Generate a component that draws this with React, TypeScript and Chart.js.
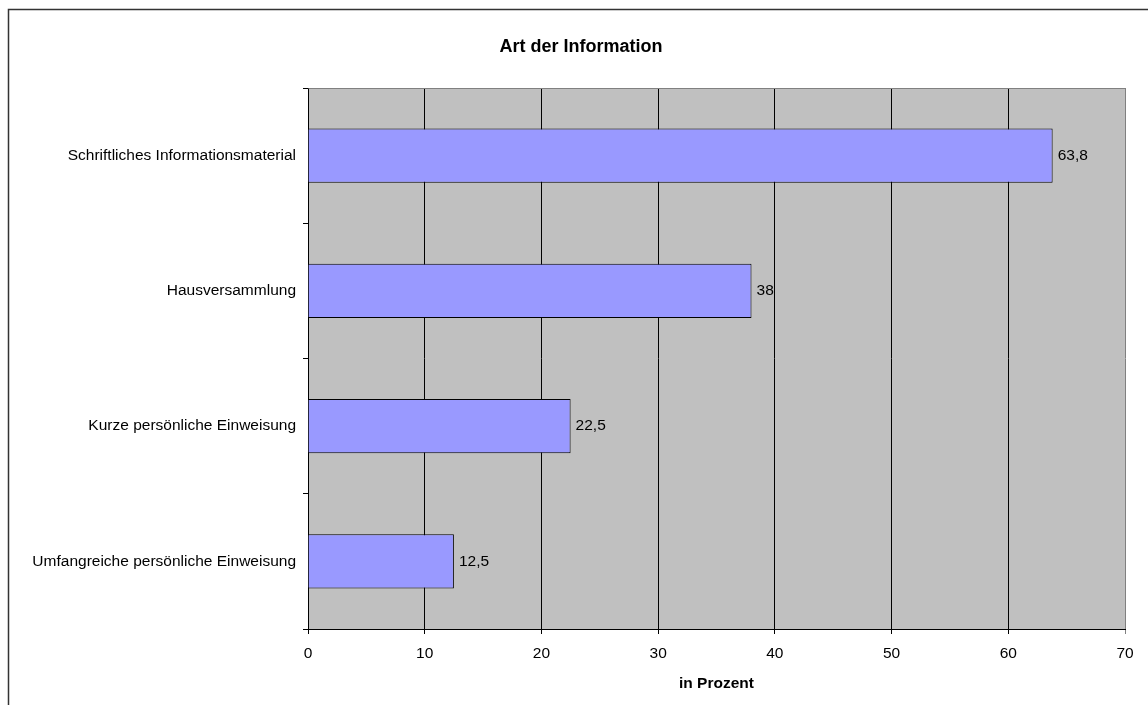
import React, { useEffect, useRef } from "react";
import { Chart, registerables } from "chart.js";

Chart.register(...registerables);

const categories = [
  "Schriftliches Informationsmaterial",
  "Hausversammlung",
  "Kurze persönliche Einweisung",
  "Umfangreiche persönliche Einweisung",
];
const values = [63.8, 38, 22.5, 12.5];
const valueLabels = ["63,8", "38", "22,5", "12,5"];
const chartTitle = "Art der Information";
const xAxisTitle = "in Prozent";

const FONT = 'Arial, "Liberation Sans", sans-serif';

const decorPlugin = {
  id: "decor",
  beforeDraw(chart: any) {
    const { ctx, chartArea } = chart;
    ctx.save();
    ctx.fillStyle = "#C0C0C0";
    ctx.fillRect(chartArea.left, chartArea.top, chartArea.right - chartArea.left, chartArea.bottom - chartArea.top);
    // outer frame
    ctx.strokeStyle = "#333";
    ctx.lineWidth = 1.5;
    ctx.beginPath();
    ctx.moveTo(8.5, 800);
    ctx.lineTo(8.5, 9.5);
    ctx.lineTo(1200, 9.5);
    ctx.stroke();
    // title
    ctx.fillStyle = "#000";
    ctx.font = `bold 18px ${FONT}`;
    ctx.textAlign = "center";
    ctx.textBaseline = "middle";
    ctx.fillText(chartTitle, 581, 47);
    ctx.restore();
  },
  afterDraw(chart: any) {
    const { ctx, chartArea } = chart;
    ctx.save();
    ctx.strokeStyle = "#808080";
    ctx.lineWidth = 1;
    ctx.beginPath();
    ctx.moveTo(Math.round(chartArea.left) + 0.5, Math.round(chartArea.top) + 0.5);
    ctx.lineTo(Math.round(chartArea.right) + 0.5, Math.round(chartArea.top) + 0.5);
    ctx.stroke();
    ctx.restore();
  },
  afterDatasetsDraw(chart: any) {
    const { ctx } = chart;
    const meta = chart.getDatasetMeta(0);
    ctx.save();
    ctx.fillStyle = "#000";
    ctx.font = `15.5px ${FONT}`;
    ctx.textAlign = "left";
    ctx.textBaseline = "middle";
    meta.data.forEach((bar: any, i: number) => {
      ctx.fillText(valueLabels[i], bar.x + 5, bar.y);
    });
    ctx.restore();
  },
};

export default function App() {
  const ref = useRef<HTMLCanvasElement | null>(null);
  useEffect(() => {
    if (!ref.current) return;
    const chart = new Chart(ref.current, {
      type: "bar",
      data: {
        labels: categories,
        datasets: [
          {
            data: values,
            backgroundColor: "#9999FF",
            borderColor: "#000",
            borderWidth: 1,
            barPercentage: 0.4,
            categoryPercentage: 1,
          },
        ],
      },
      plugins: [decorPlugin],
      options: {
        indexAxis: "y",
        animation: false,
        responsive: false,
        maintainAspectRatio: false,
        layout: { padding: { top: 88, right: 23, left: 0, bottom: 0 } },
        plugins: {
          legend: { display: false },
          tooltip: { enabled: false },
          title: { display: false },
        },
        scales: {
          x: {
            min: 0,
            max: 70,
            ticks: {
              stepSize: 10,
              color: "#000",
              padding: 10,
              font: { family: FONT, size: 15.5 },
            },
            grid: {
              color: (c: any) => (c.tick && c.tick.value === 70 ? "#808080" : "#000"),
              tickLength: 5,
              lineWidth: 1,
            },
            border: { color: "#000", width: 1 },
            title: {
              display: true,
              text: xAxisTitle,
              color: "#000",
              font: { family: FONT, size: 15.5, weight: "bold" },
              padding: { top: 0, bottom: 12 },
            },
            afterFit: (s: any) => {
              s.height = 76;
            },
          },
          y: {
            ticks: {
              color: "#000",
              padding: 7,
              font: { family: FONT, size: 15.5 },
            },
            grid: {
              drawOnChartArea: false,
              drawTicks: true,
              tickLength: 5,
              color: "#000",
              offset: true,
            },
            border: { color: "#000", width: 1 },
            afterFit: (s: any) => {
              s.width = 308;
            },
          },
        },
      } as any,
    });
    return () => chart.destroy();
  }, []);
  return (
    <div style={{ position: "absolute", left: 0, top: 0, width: 1148, height: 705, background: "#fff" }}>
      <canvas ref={ref} width={1148} height={705} style={{ display: "block" }} />
    </div>
  );
}
